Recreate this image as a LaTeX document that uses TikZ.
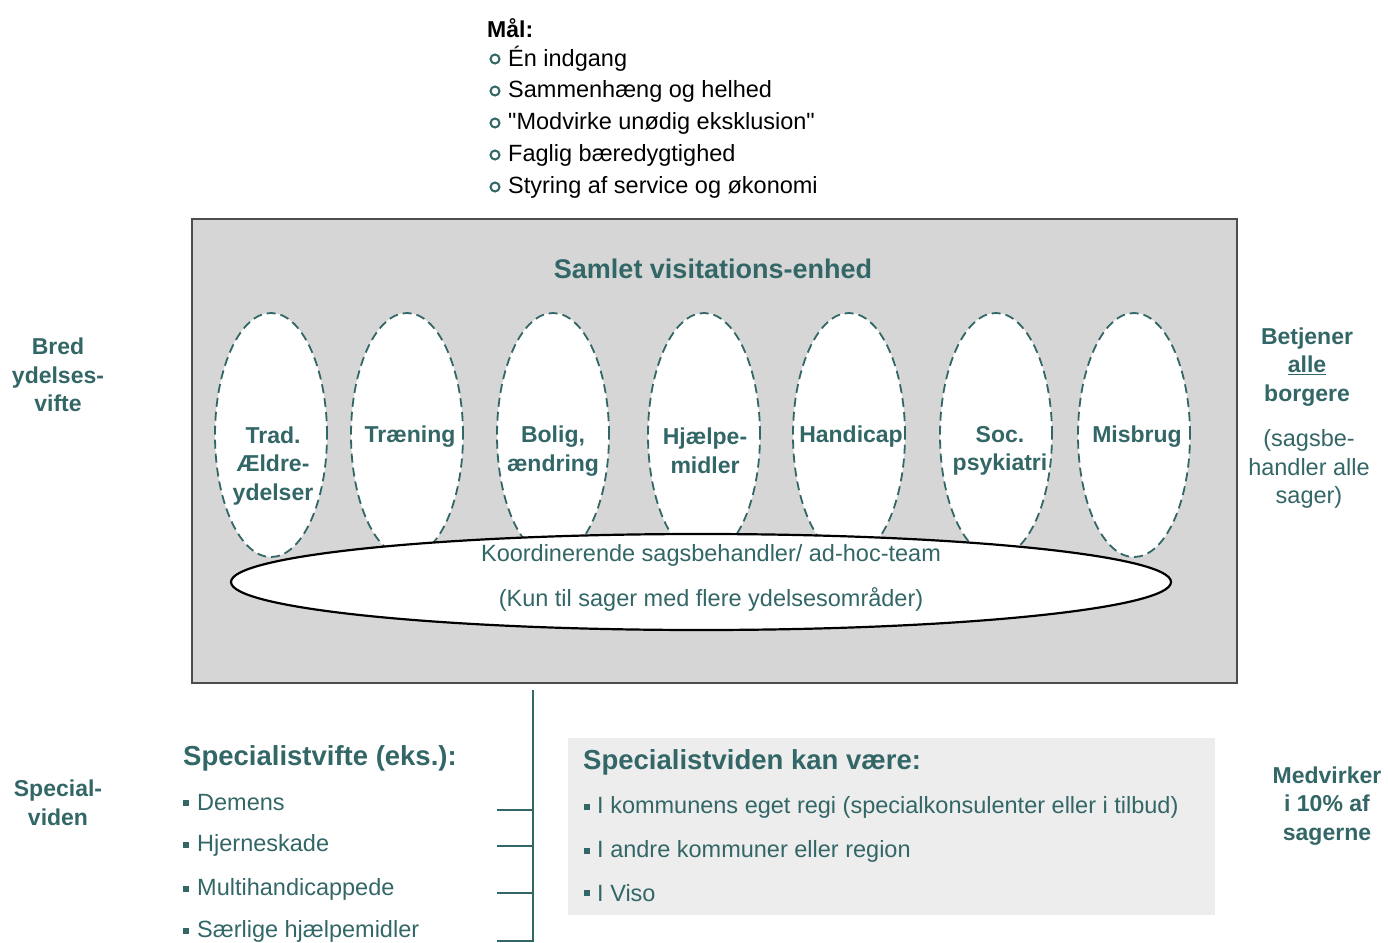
\documentclass[tikz,border=0pt]{standalone}
\usepackage{fontspec}
\setmainfont{Liberation Sans}
\usetikzlibrary{shapes.geometric}
\definecolor{teal1}{RGB}{51,102,102}
\definecolor{boxfill}{RGB}{214,214,214}
\definecolor{dotfill}{RGB}{237,237,237}
\newcommand{\fs}[1]{\fontsize{#1}{28.5}\selectfont}
\tikzset{
  lbl/.style={text=teal1, font=\fs{23}\bfseries, align=center, inner sep=0pt},
  lblr/.style={text=teal1, font=\fs{23.5}, align=center, inner sep=0pt},
  goal/.style={text=black, font=\fs{23.5}, anchor=west, inner sep=0pt},
  gbul/.style={circle, draw=teal1, line width=2pt, minimum size=9pt, inner sep=0pt},
  sbul/.style={fill=teal1, minimum size=5.5pt, inner sep=0pt},
  item/.style={text=teal1, font=\fs{23.5}, anchor=west, inner sep=0pt},
  head/.style={text=teal1, font=\fs{27.5}\bfseries, anchor=west, inner sep=0pt},
  oval/.style={ellipse, draw=teal1, fill=white, dashed, dash pattern=on 9pt off 5pt, line width=1.8pt, minimum width=112pt, minimum height=244pt, inner sep=0pt},
  tline/.style={draw=teal1, line width=1.8pt},
}
\begin{document}
\begin{tikzpicture}[x=1pt,y=-1pt]
\useasboundingbox (0,0) rectangle (1388,942);
% goals
\node[anchor=west, font=\fs{23}\bfseries, inner sep=0pt] (mal) at (487,28) {Mål:};
\foreach \i/\y/\t in {1/59/Én indgang, 2/91/Sammenhæng og helhed, 3/123/\textquotedbl Modvirke unødig eksklusion\textquotedbl, 4/155/Faglig bæredygtighed, 5/187/Styring af service og økonomi}{
  \node[gbul] (gb\i) at (495,\y) {};
  \node[goal] (g\i) at (508,\y) {\t};
}
% main box
\node[draw=black!70, line width=2pt, fill=boxfill, minimum width=1045pt, minimum height=464pt, anchor=north west, inner sep=0pt] (box) at (191,218) {};
\node[text=teal1, font=\fs{27}\bfseries, inner sep=0pt] (title) at (713,269) {Samlet visitations-enhed};
% ovals
\foreach \i/\x in {1/271, 2/407, 3/553, 4/704, 5/849, 6/996, 7/1134}{
  \node[oval] (o\i) at (\x,435) {};
}
% coordinating ellipse
\node[ellipse, draw=black, fill=white, line width=2.2pt, minimum width=940pt, minimum height=96pt, inner sep=0pt] (koord) at (701,582) {};
\node[lblr] (k1) at (711,555) {Koordinerende sagsbehandler/ ad-hoc-team};
\node[lblr] (k2) at (711,599) {(Kun til sager med flere ydelsesområder)};
% oval texts
\node[lbl] (t1) at (273,466) {Trad.\\Ældre-\\ydelser};
\node[lbl] (t2) at (410,437) {Træning};
\node[lbl] (t3) at (553,451) {Bolig,\\ændring};
\node[lbl] (t4) at (705,451) {Hjælpe-\\midler};
\node[lbl] (t5) at (851,437) {Handicap};
\node[lbl] (t6) at (1000,451) {Soc.\\psykiatri};
\node[lbl] (t7) at (1137,437) {Misbrug};
% side labels
\node[lbl] (bred) at (58,375) {Bred\\ydelses-\\vifte};
\node[lbl] (spec) at (58,803) {Special-\\viden};
\node[lbl] (betj) at (1307,367) {Betjener\\\underline{alle}\\borgere};
\node[lblr] (sags) at (1309,469) {(sagsbe-\\handler alle\\sager)};
\node[lbl] (medv) at (1327,806) {Medvirker\\i 10\% af\\sagerne};
% connector lines
\coordinate (vtop) at (533,690);
\coordinate (vbot) at (533,942);
\draw[tline] (vtop) -- (vbot);
\foreach \i/\y in {1/810, 2/846, 3/893, 4/941}{
  \coordinate (tk\i) at (497,\y);
  \coordinate (tv\i) at (533,\y);
  \draw[tline] (tk\i) -- (tv\i);
}
% specialist list
\node[head] (sv) at (183,758) {Specialistvifte (eks.):};
\foreach \i/\y/\t in {1/803/Demens, 2/845/Hjerneskade, 3/889/Multihandicappede, 4/931/Særlige hjælpemidler}{
  \node[sbul] (sb\i) at (186,\y) {};
  \node[item] (s\i) at (197,\y) {\t};
}
% dotted box
\node[fill=dotfill, minimum width=647pt, minimum height=177pt, anchor=north west, inner sep=0pt] (dbox) at (568,738) {};
\node[head] (sk) at (583,762) {Specialistviden kan være:};
\foreach \i/\y/\t in {1/807/I kommunens eget regi (specialkonsulenter eller i tilbud), 2/851/I andre kommuner eller region, 3/893/I Viso}{
  \node[sbul] (db\i) at (587,\y) {};
  \node[item] (d\i) at (597,\y) {\t};
}
\end{tikzpicture}
\end{document}
